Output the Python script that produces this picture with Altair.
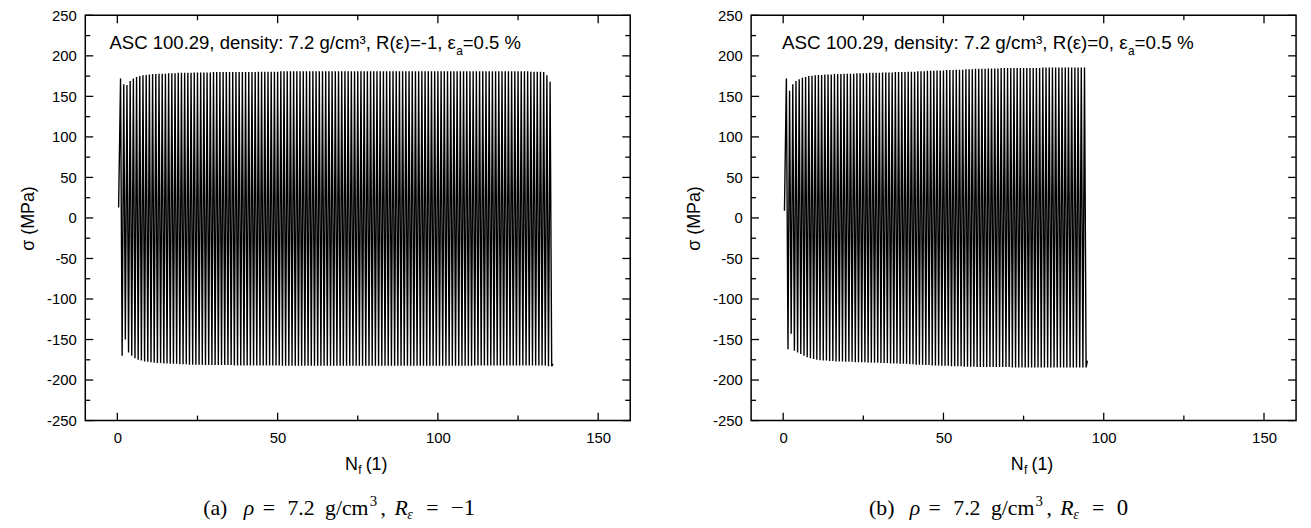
import altair as alt
import pandas as pd

# ---------------- data ----------------
X_DOMAIN = [-10, 160]
Y_DOMAIN = [-250, 250]
x_major = [0, 50, 100, 150]
x_minor = [25, 75, 125]
y_major = [-250, -200, -150, -100, -50, 0, 50, 100, 150, 200, 250]
y_minor = [-225, -175, -125, -75, -25, 25, 75, 125, 175, 225]

# panel (a): R = -1, peak stresses per cycle (MPa)
left_start = 13
left_max = [172, 165, 164, 169, 172, 174, 175, 176, 176.5, 177,
            177.5, 177.5, 178, 178, 178, 178.5, 178.5, 178.5, 179, 179,
            179, 179, 179, 179.5, 179.5, 179.5, 179.5, 179.5, 179.5, 180,
            180, 180, 180, 180, 180, 180, 180, 180, 180, 180,
            180, 180, 180, 180.5, 180.5, 180.5, 180.5, 180.5, 180.5, 180.5,
            181, 181, 181, 181, 181, 181, 181, 181, 181, 181,
            181, 181, 181, 181, 181, 181, 181, 181, 181, 181,
            181, 181, 181, 181, 181, 181, 181, 181, 181, 181,
            181, 181, 181, 181, 181, 181, 181, 181, 181, 181,
            181, 181, 181, 181, 181, 181, 181, 181, 181, 181,
            181, 181, 181, 181, 181, 181, 181, 181, 181, 181,
            181, 181, 181, 181, 181, 181, 181, 181, 181, 181,
            181, 181, 181, 181, 181, 181, 181, 181, 180.5, 180.5,
            180.5, 180.5, 180, 176, 168]
left_min = [-170, -150, -166, -170, -173, -175, -176, -177, -177.5, -178,
            -178.5, -179, -179, -179.5, -179.5, -180, -180, -180, -180.5, -180.5,
            -180.5, -181, -181, -181, -181, -181, -181.5, -181.5, -181.5, -181.5,
            -181.5, -181.5, -181.5, -181.5, -181.5, -182, -182, -182, -182, -182,
            -182, -182, -182, -182, -182, -182, -182, -182, -182, -182,
            -182.5, -182.5, -182.5, -182.5, -182.5, -182.5, -182.5, -182.5, -182.5, -182.5,
            -182.5, -182.5, -182.5, -182.5, -182.5, -182.5, -182.5, -182.5, -182.5, -182.5,
            -182.5, -182.5, -182.5, -182.5, -182.5, -182.5, -182.5, -182.5, -182.5, -182.5,
            -182.5, -182.5, -182.5, -182.5, -182.5, -182.5, -182.5, -182.5, -182.5, -182.5,
            -182.5, -182.5, -182.5, -182.5, -182.5, -182.5, -182.5, -182.5, -182.5, -182.5,
            -182.5, -182.5, -182.5, -182.5, -182.5, -182.5, -182.5, -182.5, -182.5, -182.5,
            -182, -182, -182, -182, -182, -182, -182, -182, -182, -182,
            -182, -182, -182, -182, -182, -182, -182, -182, -182, -182,
            -182, -182, -182, -183, -183]
left_end = -180

# panel (b): R = 0, peak stresses per cycle (MPa)
right_start = 9
right_max = [172, 157, 165, 169, 171, 173, 174, 175, 175.5, 176,
             176.5, 176.5, 177, 177, 177, 177.5, 177.5, 177.5, 178, 178,
             178, 178, 178.5, 178.5, 178.5, 178.5, 179, 179, 179, 179,
             179.5, 179.5, 179.5, 179.5, 180, 180, 180, 180, 180.5, 180.5,
             180.5, 181, 181, 181, 181.5, 181.5, 181.5, 182, 182, 182,
             182.5, 182.5, 182.5, 183, 183, 183, 183.5, 183.5, 183.5, 184,
             184, 184, 184, 184.5, 184.5, 184.5, 184.5, 185, 185, 185,
             185, 185, 185, 185, 185, 185, 185, 185, 185, 185,
             185.5, 185.5, 185.5, 185.5, 185.5, 185.5, 185.5, 185.5, 185.5, 185.5,
             185.5, 185.5, 185.5, 185.5]
right_min = [-162, -143, -164, -166, -168, -170, -172, -173, -174, -175,
             -175.5, -176, -176, -176.5, -176.5, -177, -177, -177, -177.5, -177.5,
             -177.5, -178, -178, -178, -178, -178.5, -178.5, -178.5, -178.5, -179,
             -179, -179, -179.5, -179.5, -179.5, -180, -180, -180, -180.5, -180.5,
             -181, -181, -181, -181.5, -181.5, -182, -182, -182, -182.5, -182.5,
             -182.5, -183, -183, -183, -183, -183.5, -183.5, -183.5, -183.5, -184,
             -184, -184, -184, -184, -184, -184, -184, -184, -184, -184,
             -184.5, -184.5, -184.5, -184.5, -184.5, -184.5, -184.5, -184.5, -184.5, -184.5,
             -184.5, -184.5, -184.5, -184.5, -184.5, -184.5, -184.5, -184.5, -184.5, -184.5,
             -184.5, -184.5, -184.5, -184.5]
right_end = -176

ann_left = ["ASC 100.29, density: 7.2 g/cm³, R(ε)=-1, ε", "a", "=0.5 %"]
ann_right = ["ASC 100.29, density: 7.2 g/cm³, R(ε)=0, ε", "a", "=0.5 %"]
cap_left = ["(a)", "−1"]
cap_right = ["(b)", "0"]
cap_common = ["ρ", "=", "7.2", "g", "/", "cm", "3", ",", "R", "ε", "="]
x_title = ["N", "f", "(1)"]
y_title = "σ (MPa)"

# ---------------- layout constants ----------------
W, H = 550, 409
SANS = "Liberation Sans"
SERIF = "Liberation Serif"


def cycle_frame(start, maxs, mins, end):
    xs, ys = [0.4], [start]
    for i, (hi, lo) in enumerate(zip(maxs, mins), start=1):
        xs += [i, i + 0.5]
        ys += [hi, lo]
    xs.append(len(maxs) + 0.9)
    ys.append(end)
    return pd.DataFrame({"N": xs, "sigma": ys, "k": list(range(len(xs)))})


def text_layer(txt, x, y, size, font=SANS, align="left", style="normal"):
    return alt.Chart(pd.DataFrame({"t": [txt]})).mark_text(
        align=align, baseline="alphabetic", font=font, fontSize=size,
        color="black", fontStyle=style
    ).encode(x=alt.value(x), y=alt.value(y), text="t:N")


X_AXIS = alt.Axis(values=x_major, title=None, domain=False, ticks=False, tickSize=0,
                  grid=False, labelPadding=10, labelFont=SANS, labelFontSize=15,
                  labelColor="black", labelExpr="'' + datum.value")
Y_AXIS = alt.Axis(values=y_major, title=y_title, domain=False, ticks=False, tickSize=0,
                  grid=False, labelPadding=9, labelFont=SANS, labelFontSize=15,
                  labelColor="black", labelExpr="'' + datum.value",
                  titleFont=SANS, titleFontSize=18, titleFontWeight="normal",
                  titleColor="black", titlePadding=9)


def caption(cap):
    # (label, x offset, baseline offset, size, style)
    y0 = H + 95
    parts = [
        (cap[0], 119, y0, 22, "normal"),
        (cap_common[0], 160, y0, 22, "italic"),
        (cap_common[1], 179, y0, 22, "normal"),
        (cap_common[2], 204, y0, 22, "normal"),
        (cap_common[3], 242, y0, 22, "normal"),
        (cap_common[4], 253, y0, 22, "normal"),
        (cap_common[5], 259, y0, 22, "normal"),
        (cap_common[6], 287, y0 - 9, 15, "normal"),
        (cap_common[7], 298, y0, 22, "normal"),
        (cap_common[8], 312, y0, 22, "italic"),
        (cap_common[9], 325, y0 + 4, 14, "italic"),
        (cap_common[10], 344, y0, 22, "normal"),
        (cap[1], 369, y0, 23, "normal"),
    ]
    return [text_layer(t, x, y, s, font=SERIF, style=st) for t, x, y, s, st in parts]


def panel(start, maxs, mins, end, ann, ann_j, ann_size, cap):
    xs = alt.Scale(domain=X_DOMAIN, nice=False, zero=False)
    ys = alt.Scale(domain=Y_DOMAIN, nice=False, zero=False)
    df = cycle_frame(start, maxs, mins, end)
    line = alt.Chart(df).mark_line(color="black", strokeWidth=1.4, clip=True).encode(
        x=alt.X("N:Q", scale=xs, axis=X_AXIS),
        y=alt.Y("sigma:Q", scale=ys, axis=Y_AXIS),
        order="k:Q",
    )
    ymaj = pd.DataFrame({"v": y_major})
    ymin = pd.DataFrame({"v": y_minor})
    xmaj = pd.DataFrame({"v": x_major})
    xmin = pd.DataFrame({"v": x_minor})
    rule = dict(color="black", strokeWidth=1.3)
    YY = alt.Y("v:Q", scale=ys, axis=Y_AXIS)
    XX = alt.X("v:Q", scale=xs, axis=X_AXIS)
    ticks = [
        alt.Chart(ymaj).mark_rule(**rule).encode(y=YY, x=alt.value(0), x2=alt.value(8)),
        alt.Chart(ymin).mark_rule(**rule).encode(y=YY, x=alt.value(0), x2=alt.value(5)),
        alt.Chart(ymaj).mark_rule(**rule).encode(y=YY, x=alt.value(W - 8), x2=alt.value(W)),
        alt.Chart(ymin).mark_rule(**rule).encode(y=YY, x=alt.value(W - 5), x2=alt.value(W)),
        alt.Chart(xmaj).mark_rule(**rule).encode(x=XX, y=alt.value(H - 8), y2=alt.value(H)),
        alt.Chart(xmin).mark_rule(**rule).encode(x=XX, y=alt.value(H - 5), y2=alt.value(H)),
        alt.Chart(xmaj).mark_rule(**rule).encode(x=XX, y=alt.value(0), y2=alt.value(8)),
        alt.Chart(xmin).mark_rule(**rule).encode(x=XX, y=alt.value(0), y2=alt.value(5)),
    ]
    texts = [
        text_layer(ann[0], ann_j, 34, ann_size, align="right"),
        text_layer(ann[1], ann_j + 0.5, 40, 12),
        text_layer(ann[2], ann_j + 7, 34, ann_size),
        text_layer(x_title[0], W / 2, H + 50, 18, align="right"),
        text_layer(x_title[1], W / 2 + 0.5, H + 54, 12),
        text_layer(x_title[2], W / 2 + 8, H + 50, 18),
    ] + caption(cap)
    return alt.layer(line, *ticks, *texts).properties(width=W, height=H)


left = panel(left_start, left_max, left_min, left_end, ann_left, 374, 18.7, cap_left)
right = panel(right_start, right_max, right_min, right_end, ann_right, 380, 19, cap_right)

chart = alt.hconcat(left, right, spacing=122, bounds="flush").properties(
    padding={"left": 11, "top": -3, "right": 5, "bottom": 0}
).configure_view(stroke="black", strokeWidth=1.5)

chart.save("out.html", embed_options={"renderer": "svg", "actions": False})
